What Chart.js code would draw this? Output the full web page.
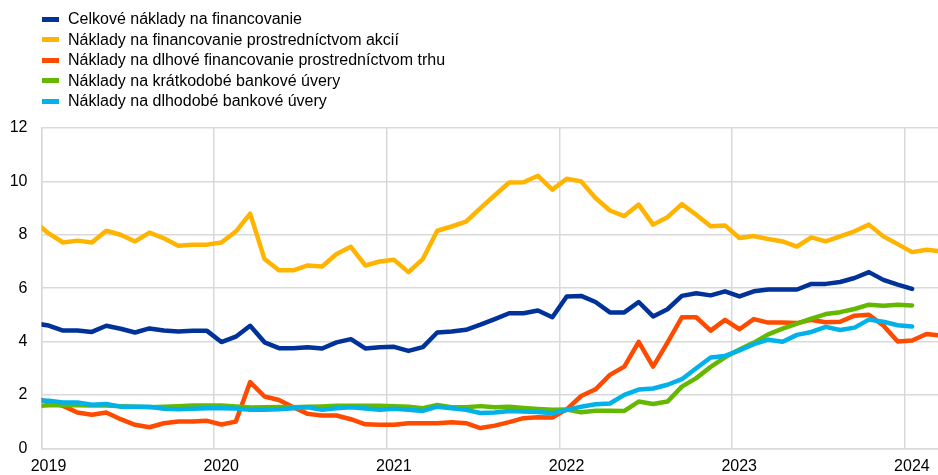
<!DOCTYPE html>
<html><head><meta charset="utf-8">
<script src="https://cdn.jsdelivr.net/npm/chart.js@4"></script>
<style>
html,body{margin:0;padding:0;background:#fff;}
#wrap{position:relative;width:938px;height:475px;overflow:hidden;}
#legend{position:absolute;left:42px;top:9px;font-family:"Liberation Sans",Arial,sans-serif;font-size:16px;color:#000;}
.item{height:20.5px;display:flex;align-items:center;white-space:nowrap;}
.sw{width:17px;height:5px;margin-right:9px;flex:none;}
</style></head><body>
<div id="wrap"><canvas id="c" width="938" height="475"></canvas><div id="legend"></div></div>
<script>
// Monthly observations, first = December 2018, plotted at mid-month
const firstYear = 2018, firstMonth = 12;
const yearTicks = [2019, 2020, 2021, 2022, 2023, 2024];
const yTicks = [0, 2, 4, 6, 8, 10, 12];

const seriesNames = [
  "Celkové náklady na financovanie",
  "Náklady na financovanie prostredníctvom akcií",
  "Náklady na dlhové financovanie prostredníctvom trhu",
  "Náklady na krátkodobé bankové úvery",
  "Náklady na dlhodobé bankové úvery"
];
const seriesColors = ["#003299", "#FFB400", "#FF4B00", "#65B800", "#00B1EA"];

const totalCost = [4.68, 4.6, 4.41, 4.41, 4.36, 4.59, 4.48, 4.34, 4.49, 4.41, 4.38, 4.4, 4.4,
  3.98, 4.18, 4.59, 3.97, 3.75, 3.75, 3.79, 3.74, 3.97, 4.09, 3.74, 3.79,
  3.8, 3.65, 3.79, 4.34, 4.38, 4.44, 4.63, 4.84, 5.06, 5.06, 5.16, 4.91,
  5.69, 5.71, 5.48, 5.09, 5.09, 5.48, 4.94, 5.21, 5.71, 5.81, 5.73, 5.88,
  5.69, 5.88, 5.95, 5.95, 5.95, 6.16, 6.16, 6.23, 6.38, 6.6, 6.31, 6.13,
  5.97];
const equityCost = [8.5, 8.05, 7.71, 7.78, 7.71, 8.15, 8.0, 7.75, 8.08, 7.87, 7.59, 7.63, 7.63,
  7.71, 8.12, 8.79, 7.09, 6.67, 6.67, 6.85, 6.81, 7.28, 7.55, 6.85, 7.0,
  7.06, 6.6, 7.09, 8.15, 8.31, 8.49, 9.0, 9.48, 9.96, 9.97, 10.21, 9.69,
  10.1, 10.0, 9.38, 8.91, 8.7, 9.13, 8.38, 8.66, 9.15, 8.75, 8.32, 8.35,
  7.88, 7.95, 7.84, 7.75, 7.56, 7.9, 7.75, 7.94, 8.13, 8.38, 7.94, 7.65,
  7.35, 7.44, 7.38];
const marketDebtCost = [1.9, 1.72, 1.59, 1.34, 1.26, 1.34, 1.09, 0.88, 0.79, 0.94, 1.0, 1.0, 1.03,
  0.89, 1.0, 2.48, 1.94, 1.81, 1.54, 1.29, 1.23, 1.23, 1.09, 0.9, 0.88,
  0.88, 0.94, 0.94, 0.94, 0.98, 0.94, 0.76, 0.85, 0.98, 1.13, 1.16, 1.15,
  1.46, 1.96, 2.21, 2.75, 3.06, 3.99, 3.06, 3.96, 4.91, 4.91, 4.41, 4.81,
  4.46, 4.84, 4.71, 4.71, 4.69, 4.81, 4.72, 4.74, 4.97, 5.0, 4.6, 4.0,
  4.04, 4.28, 4.22];
const shortLoanCost = [1.58, 1.61, 1.61, 1.61, 1.6, 1.6, 1.58, 1.56, 1.54, 1.56, 1.58, 1.6, 1.6,
  1.6, 1.57, 1.53, 1.54, 1.55, 1.54, 1.56, 1.57, 1.59, 1.59, 1.59, 1.59,
  1.58, 1.56, 1.5, 1.62, 1.54, 1.54, 1.58, 1.54, 1.56, 1.51, 1.47, 1.44,
  1.45, 1.35, 1.41, 1.41, 1.4, 1.75, 1.66, 1.75, 2.31, 2.63, 3.05, 3.41,
  3.7, 3.96, 4.27, 4.48, 4.67, 4.86, 5.03, 5.1, 5.22, 5.38, 5.34, 5.38,
  5.35];
const longLoanCost = [1.8, 1.78, 1.72, 1.72, 1.63, 1.66, 1.56, 1.56, 1.56, 1.48, 1.46, 1.48, 1.5,
  1.5, 1.49, 1.44, 1.44, 1.46, 1.5, 1.54, 1.44, 1.5, 1.54, 1.49, 1.44,
  1.48, 1.44, 1.4, 1.56, 1.5, 1.44, 1.32, 1.34, 1.4, 1.38, 1.36, 1.31,
  1.44, 1.56, 1.65, 1.68, 2.0, 2.2, 2.24, 2.38, 2.59, 3.0, 3.4, 3.46,
  3.67, 3.9, 4.07, 3.99, 4.25, 4.36, 4.55, 4.43, 4.52, 4.82, 4.74, 4.61,
  4.56];

const allSeries = [totalCost, equityCost, marketDebtCost, shortLoanCost, longLoanCost];

// month position: months since Jan 2019, at mid-month
const baseYear = yearTicks[0];
function toPoints(vals) {
  return vals.map((v, i) => {
    const mIndex = (firstYear - baseYear) * 12 + (firstMonth - 1) + i;
    return { x: mIndex + 0.5, y: v };
  });
}

const legend = document.getElementById('legend');
seriesNames.forEach((n, i) => {
  const d = document.createElement('div'); d.className = 'item';
  d.innerHTML = '<span class="sw" style="background:' + seriesColors[i] + '"></span><span>' + n + '</span>';
  legend.appendChild(d);
});

const gridColor = '#d9d9d9';
const font = { family: '"Liberation Sans", Arial, sans-serif', size: 16 };

new Chart(document.getElementById('c'), {
  type: 'line',
  data: {
    datasets: allSeries.map((s, i) => ({
      label: seriesNames[i],
      data: toPoints(s),
      borderColor: seriesColors[i],
      backgroundColor: seriesColors[i],
      borderWidth: 4.5,
      pointRadius: 0,
      tension: 0,
      fill: false,
      borderJoinStyle: 'round',
      borderCapStyle: 'round',
      order: allSeries.length - i
    }))
  },
  options: {
    responsive: false,
    devicePixelRatio: 1,
    animation: false,
    layout: { padding: { top: 128, right: 0, left: 0, bottom: 0 } },
    plugins: { legend: { display: false }, tooltip: { enabled: false } },
    scales: {
      x: {
        type: 'linear',
        min: 0,
        max: 62.3,
        afterFit: s => { s.height = 26.7; },
        grid: { color: gridColor, lineWidth: 1.5, drawTicks: false },
        border: { color: gridColor, width: 1.5 },
        ticks: {
          stepSize: 12,
          includeBounds: false,
          autoSkip: false,
          maxRotation: 0,
          labelOffset: 7,
          padding: 9,
          color: '#000',
          font: font,
          callback: v => (v % 12 === 0 ? String(baseYear + v / 12) : '')
        }
      },
      y: {
        min: 0,
        max: 12,
        afterFit: s => { s.width = 41.5; },
        grid: { color: gridColor, lineWidth: 1.5, drawTicks: false },
        border: { color: gridColor, width: 1.5 },
        ticks: { stepSize: 2, padding: 14, color: '#000', font: font,
          callback: v => (yTicks.includes(v) ? String(v) : '') }
      }
    }
  }
});
</script>
</body></html>
